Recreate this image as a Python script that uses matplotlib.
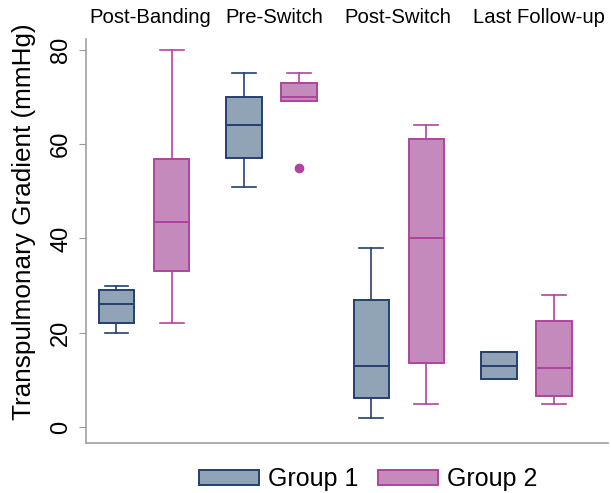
import numpy as np
import matplotlib.pyplot as plt
from matplotlib.patches import Patch

plt.rcParams['font.family'] = ['Liberation Sans', 'DejaVu Sans']

# time points (labels on top)
stages = ['Post-Banding', 'Pre-Switch', 'Post-Switch', 'Last Follow-up']

# box stats (mmHg), one entry per stage
g1_lo = [20.0, 51.0, 2.0, 10.1]
g1_q1 = [22.1, 57.1, 6.2, 10.1]
g1_med = [26.0, 64.0, 13.0, 13.0]
g1_q3 = [29.0, 69.9, 26.9, 15.9]
g1_hi = [29.9, 75.0, 38.0, 15.9]
g1_out = [[], [], [], []]

g2_lo = [22.0, 69.2, 4.9, 4.9]
g2_q1 = [33.1, 69.2, 13.6, 6.6]
g2_med = [43.5, 69.9, 40.1, 12.5]
g2_q3 = [56.9, 72.9, 61.0, 22.4]
g2_hi = [80.0, 75.0, 64.1, 27.9]
g2_out = [[], [55.0], [], []]

groups = ['Group 1', 'Group 2']
fill_cols = ['#91a3b7', '#c38abb']
edge_cols = ['#26406e', '#b0449f']

def stats(lo, q1, med, q3, hi, out):
    return [dict(whislo=a, q1=b, med=c, q3=d, whishi=e, fliers=f)
            for a, b, c, d, e, f in zip(lo, q1, med, q3, hi, out)]

fig = plt.figure(figsize=(6.11, 4.93), dpi=100)
ax = fig.add_axes([0.1408, 0.1014, 0.8542, 0.8196])

x = np.arange(len(stages))
off = 0.216
w = 0.28
all_stats = [stats(g1_lo, g1_q1, g1_med, g1_q3, g1_hi, g1_out),
             stats(g2_lo, g2_q1, g2_med, g2_q3, g2_hi, g2_out)]
for i, st in enumerate(all_stats):
    pos = x + (i * 2 - 1) * off
    ec = edge_cols[i]
    ax.bxp(st, positions=pos, widths=w, patch_artist=True, showfliers=True,
           boxprops=dict(facecolor=fill_cols[i], edgecolor=ec, linewidth=1.4),
           medianprops=dict(color=ec, linewidth=1.4),
           whiskerprops=dict(color=ec, linewidth=1.2),
           capprops=dict(color=ec, linewidth=1.2),
           capwidths=w * 0.67,
           flierprops=dict(marker='o', markerfacecolor=ec, markeredgecolor=ec,
                           markersize=6))

ax.set_xlim(-0.455, 3.64)
ax.set_ylim(-3.4, 82.3)
ax.set_xticks([])
ax.set_yticks([0, 20, 40, 60, 80])
ax.set_yticklabels(['0', '20', '40', '60', '80'], rotation=90, va='center', fontsize=17)
ax.tick_params(axis='y', length=5, color='#999999', pad=5)
for s in ['top', 'right']:
    ax.spines[s].set_visible(False)
for s in ['left', 'bottom']:
    ax.spines[s].set_color('#a0a0a0')
    ax.spines[s].set_linewidth(1.2)

fig.text(24 / 611, 1 - 222 / 493, 'Transpulmonary Gradient (mmHg)', rotation=90,
         ha='center', va='center', fontsize=18.8)

# group labels above the plot
lab_x = [0.1226, 0.360, 0.598, 0.868]
for xi, lab in zip(lab_x, stages):
    ax.text(xi, 1.052, lab, transform=ax.transAxes,
            ha='center', va='center', fontsize=14.6)

handles = [Patch(facecolor=fill_cols[i], edgecolor=edge_cols[i], linewidth=1.4)
           for i in range(2)]
fig.legend(handles, groups, loc='center', bbox_to_anchor=(368 / 611, 14 / 493),
           ncol=2, frameon=False, fontsize=18, handlelength=2.4,
           handleheight=0.56, columnspacing=0.8, handletextpad=0.36)

fig.savefig('out.png', dpi=100)
